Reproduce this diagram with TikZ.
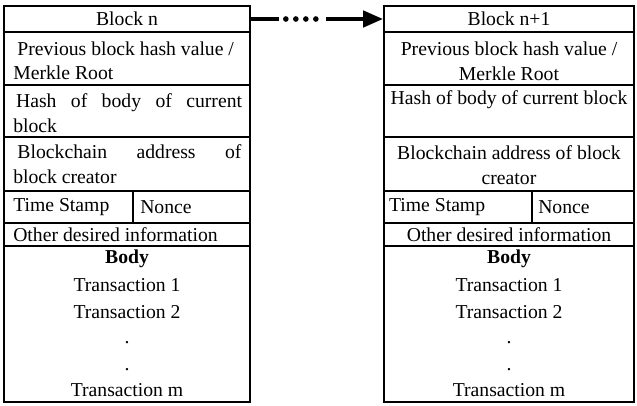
\documentclass[tikz,border=0pt]{standalone}
\usepackage{fontspec}
\setmainfont{Liberation Serif}
\usetikzlibrary{arrows.meta}

\begin{document}
\begin{tikzpicture}[every node/.style={font=\fontsize{14}{17.7}\selectfont, inner sep=0pt},
	blk/.style={line width=1.2pt},
	hdr/.style={draw, line width=1.2pt, minimum height=0.65cm}]
	
	\useasboundingbox (0,0) rectangle (15.925,-10.125);
	
	% block n
	\node[hdr, minimum width=6.15cm] (bn) at (3.175,-0.475) {Block n};
	\draw[blk] (0.1,-0.8) rectangle (6.25,-10.05);
	\foreach \y in {-2.125,-3.425,-4.775,-5.575,-6.15}
	\draw[blk] (0.1,\y) -- (6.25,\y);
	\draw[blk] (3.325,-4.775) -- (3.325,-5.575);
	
	% header fields of block n
	\node[anchor=west, align=left] (prevn) at (0.325,-1.52) {\hspace*{3pt}Previous block hash value /\\Merkle Root};
	\node[anchor=west, align=left] (hashn) at (0.325,-2.82) {\hspace*{2pt}\makebox[5.65cm][s]{Hash of body of current}\\block};
	\node[anchor=west, align=left] (addrn) at (0.325,-4.11) {\hspace*{3pt}\makebox[5.6cm][s]{Blockchain address of}\\block creator};
	\node[anchor=west] (tsn) at (0.325,-5.17) {Time Stamp};
	\node[anchor=west] (non) at (3.5,-5.17) {Nonce};
	\node[anchor=west] (othn) at (0.325,-5.86) {Other desired information};
	
	% body of block n
	\node (bodyn) at (3.175,-6.475) {\bfseries Body};
	\node (t1n) at (3.175,-7.125) {Transaction 1};
	\node (t2n) at (3.175,-7.8) {Transaction 2};
	\node (d1n) at (3.175,-8.575) {.};
	\node (d2n) at (3.175,-9.25) {.};
	\node (tmn) at (3.175,-9.75) {Transaction m};
	
	% block n+1
	\node[hdr, minimum width=6.25cm] (bm) at (12.725,-0.475) {Block n+1};
	\draw[blk] (9.6,-0.8) rectangle (15.85,-10.05);
	\foreach \y in {-2.125,-3.425,-4.775,-5.575,-6.15}
	\draw[blk] (9.6,\y) -- (15.85,\y);
	\draw[blk] (13.3,-4.775) -- (13.3,-5.575);
	
	% header fields of block n+1
	\node[align=center] (prevm) at (12.725,-1.54) {Previous block hash value /\\Merkle Root};
	\node (hashm) at (12.725,-2.5) {Hash of body of current block};
	\node[align=center] (addrm) at (12.725,-4.13) {Blockchain address of block\\creator};
	\node[anchor=west] (tsm) at (9.72,-5.17) {Time Stamp};
	\node[anchor=west] (nom) at (13.45,-5.17) {Nonce};
	\node (othm) at (12.725,-5.86) {Other desired information};
	
	% body of block n+1
	\node (bodym) at (12.725,-6.475) {\bfseries Body};
	\node (t1m) at (12.725,-7.125) {Transaction 1};
	\node (t2m) at (12.725,-7.8) {Transaction 2};
	\node (d1m) at (12.725,-8.575) {.};
	\node (d2m) at (12.725,-9.25) {.};
	\node (tmm) at (12.725,-9.75) {Transaction m};
	
	% link from block n to block n+1
	\draw[line width=3pt] (bn.east) -- ++(0.7,0) coordinate (a1);
	\draw[line width=4pt, line cap=round, dash pattern=on 0pt off 0.25cm] ([xshift=0.175cm]a1) -- ++(0.76,0);
	\draw[line width=3pt, -{Triangle[length=0.5cm, width=0.4cm]}] ([xshift=1.175cm]a1) -- (bm.west);
	
\end{tikzpicture}
\end{document}
